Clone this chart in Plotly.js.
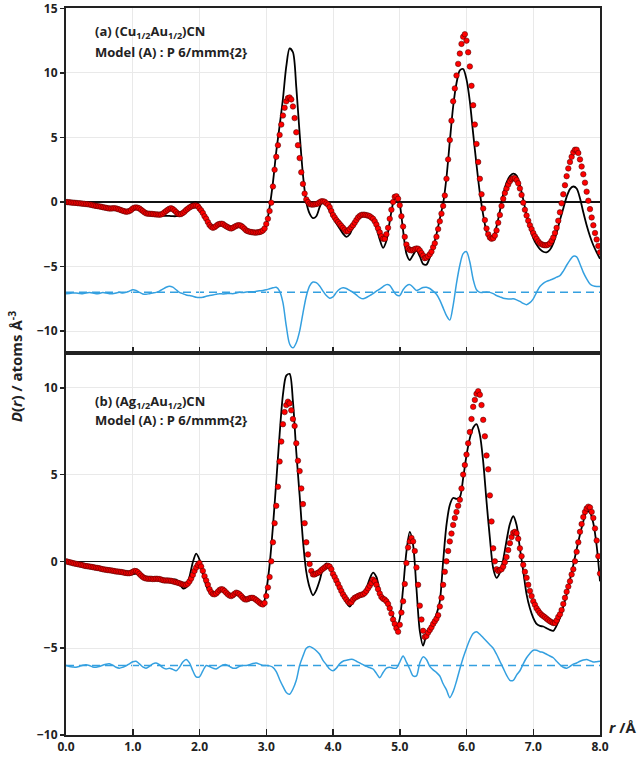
<!DOCTYPE html>
<html>
<head>
<meta charset="utf-8">
<script src="https://cdn.plot.ly/plotly-3.0.1.min.js"></script>
<style>html,body{margin:0;padding:0;background:#fff;}</style>
</head>
<body>
<div id="chart" style="width:641px;height:758px;"></div>
<script>
// ---------------- DATA ----------------
// Sampling grids (r in Å)
const expStep = 0.025;  // experimental points
const fitStep = 0.05;   // model / difference curves
const rExp = Array.from({length: 321}, (_, i) => +(i * expStep).toFixed(3));
const rFit = Array.from({length: 161}, (_, i) => +(i * fitStep).toFixed(2));

// Panel (a) (Cu1/2Au1/2)CN : experimental D(r), one row = 0.2 Å
const expA = [
  0,-0.01,-0.02,-0.04,-0.05,-0.06,-0.07,-0.09,
  -0.1,-0.11,-0.13,-0.14,-0.16,-0.17,-0.19,-0.21,
  -0.25,-0.28,-0.3,-0.32,-0.34,-0.36,-0.4,-0.43,
  -0.45,-0.48,-0.5,-0.5,-0.49,-0.48,-0.5,-0.54,
  -0.58,-0.63,-0.68,-0.72,-0.75,-0.74,-0.7,-0.62,
  -0.5,-0.44,-0.42,-0.45,-0.5,-0.6,-0.7,-0.8,
  -0.88,-0.9,-0.91,-0.92,-0.93,-0.95,-0.96,-0.97,
  -0.98,-0.96,-0.9,-0.8,-0.7,-0.6,-0.52,-0.48,
  -0.55,-0.65,-0.78,-0.9,-0.95,-0.93,-0.85,-0.75,
  -0.62,-0.52,-0.42,-0.35,-0.3,-0.28,-0.28,-0.32,
  -0.5,-0.65,-0.85,-1.1,-1.3,-1.55,-1.78,-1.92,
  -2.0,-1.95,-1.85,-1.75,-1.7,-1.68,-1.7,-1.8,
  -1.88,-1.95,-2.02,-2.05,-2.0,-1.92,-1.85,-1.8,
  -1.8,-1.85,-1.95,-2.08,-2.2,-2.26,-2.3,-2.33,
  -2.35,-2.37,-2.37,-2.35,-2.32,-2.28,-2.2,-2.05,
  -1.7,-1.3,-0.7,-0.05,1.2,2.5,3.5,4.4,
  5.2,6.0,6.7,7.3,7.8,8.05,8.1,7.95,
  7.4,6.5,5.4,4.4,3.4,2.3,1.4,0.65,
  0.2,0.0,-0.15,-0.2,-0.2,-0.18,-0.15,-0.12,
  -0.02,0.05,0.05,0.02,-0.1,-0.2,-0.4,-0.7,
  -1.0,-1.2,-1.4,-1.55,-1.7,-1.85,-2.0,-2.15,
  -2.28,-2.25,-2.1,-1.95,-1.8,-1.6,-1.4,-1.2,
  -1.08,-1.0,-0.98,-0.99,-1.02,-1.05,-1.1,-1.2,
  -1.3,-1.5,-1.75,-2.05,-2.35,-2.65,-2.85,-2.85,
  -2.5,-2.0,-1.3,-0.6,0.0,0.4,0.45,0.25,
  -0.25,-1.1,-1.9,-2.7,-3.3,-3.6,-3.72,-3.75,
  -3.7,-3.65,-3.6,-3.62,-3.75,-3.95,-4.15,-4.35,
  -4.3,-4.2,-4.05,-3.85,-3.5,-3.2,-2.7,-2.1,
  -1.5,-0.9,-0.3,0.5,1.8,3.3,4.8,6.3,
  7.8,8.8,9.8,10.7,11.5,12.25,12.8,13.0,
  12.5,11.6,10.5,9.0,7.5,6.0,4.5,3.1,
  1.8,0.6,-0.5,-1.4,-2.05,-2.5,-2.75,-2.85,
  -2.8,-2.6,-2.2,-1.6,-1.0,-0.3,0.25,0.7,
  1.05,1.35,1.6,1.78,1.85,1.85,1.7,1.45,
  1.05,0.55,-0.05,-0.6,-1.05,-1.45,-1.8,-2.1,
  -2.4,-2.65,-2.85,-3.05,-3.2,-3.28,-3.33,-3.35,
  -3.35,-3.3,-3.2,-3.0,-2.75,-2.4,-2.0,-1.45,
  -0.8,-0.1,0.6,1.3,2.0,2.6,3.1,3.5,
  3.85,4.05,4.05,3.8,3.3,2.75,2.15,1.5,
  0.8,0.1,-0.55,-1.2,-1.8,-2.4,-2.9,-3.4,
  -3.9
];
// model fit, one row = 0.5 Å
const fitA = [
  0,-0.03,-0.05,-0.07,-0.1,-0.13,-0.17,-0.2,-0.25,-0.3,
  -0.34,-0.4,-0.45,-0.5,-0.49,-0.5,-0.6,-0.72,-0.76,-0.68,
  -0.5,-0.45,-0.55,-0.75,-0.88,-0.92,-0.95,-1.0,-1.02,-1.05,
  -1.07,-1.08,-1.1,-1.1,-1.05,-0.85,-0.55,-0.3,-0.08,0.0,
  -0.3,-0.8,-1.4,-1.85,-2.05,-1.95,-1.75,-1.72,-1.88,-2.05,
  -2.05,-1.9,-1.82,-1.95,-2.2,-2.35,-2.4,-2.45,-2.45,-2.35,
  -1.8,-0.4,1.5,3.9,5.9,8.0,10.5,11.9,11.6,8.9,
  5.3,2.1,0.0,-0.9,-1.25,-1.1,-0.4,0.1,-0.1,-0.7,
  -1.2,-1.65,-2.05,-2.45,-2.7,-2.5,-1.9,-1.3,-0.98,-0.92,
  -0.95,-1.0,-1.3,-2.0,-2.9,-3.55,-3.0,-1.5,-0.1,0.5,
  -0.2,-2.2,-4.0,-4.5,-4.1,-3.75,-4.2,-4.8,-4.85,-4.3,
  -3.5,-2.5,-1.3,-0.1,1.9,4.7,7.4,9.2,10.2,10.3,
  9.5,7.8,5.3,2.9,0.7,-1.0,-2.3,-2.9,-2.7,-1.9,
  -0.7,0.6,1.5,2.0,2.2,2.05,1.3,0.2,-1.0,-2.0,
  -2.8,-3.3,-3.65,-3.85,-3.9,-3.7,-3.2,-2.4,-1.4,-0.5,
  0.4,1.0,1.2,1.05,0.3,-0.8,-1.8,-2.65,-3.35,-3.9,
  -4.4
];
// difference curve (offset), one row = 0.5 Å
const diffA = [
  -7.1,-7.08,-7.05,-7.05,-7.08,-7.1,-7.05,-7.02,-7.05,-7.1,
  -7.08,-7.02,-7.05,-7.1,-7.1,-7.05,-7.0,-7.05,-7.0,-6.9,
  -6.8,-6.85,-7.0,-7.12,-7.15,-7.1,-7.05,-7.0,-6.9,-6.75,
  -6.6,-6.52,-6.6,-6.8,-7.0,-7.1,-7.2,-7.25,-7.3,-7.38,
  -7.4,-7.38,-7.3,-7.25,-7.2,-7.15,-7.1,-7.12,-7.1,-7.08,
  -7.1,-7.05,-7.0,-7.02,-6.98,-6.95,-6.95,-6.92,-6.88,-6.85,
  -6.8,-6.72,-6.65,-6.6,-6.9,-7.8,-9.6,-11.0,-11.3,-10.9,
  -10.0,-8.6,-7.3,-6.5,-6.2,-6.25,-6.5,-6.9,-7.25,-7.45,
  -7.35,-7.0,-6.75,-6.65,-6.7,-6.85,-7.0,-7.2,-7.4,-7.5,
  -7.4,-7.25,-7.1,-6.9,-6.75,-6.55,-6.4,-6.45,-6.85,-7.2,
  -7.25,-6.8,-6.5,-6.4,-6.6,-6.85,-6.75,-6.62,-6.6,-6.7,
  -6.9,-7.15,-7.6,-8.2,-8.8,-9.15,-8.0,-6.3,-4.9,-4.0,
  -3.85,-4.65,-6.0,-6.8,-7.0,-7.0,-6.98,-7.0,-7.1,-7.25,
  -7.35,-7.45,-7.5,-7.52,-7.5,-7.58,-7.7,-7.85,-7.95,-7.8,
  -7.5,-7.0,-6.55,-6.3,-6.15,-6.05,-5.95,-5.82,-5.7,-5.35,
  -4.9,-4.5,-4.2,-4.25,-4.8,-5.45,-5.95,-6.35,-6.5,-6.55,
  -6.55
];
const baseA = -7;

// Panel (b) (Ag1/2Au1/2)CN : experimental D(r), one row = 0.2 Å
const expB = [
  0,-0.02,-0.05,-0.07,-0.1,-0.12,-0.14,-0.16,
  -0.18,-0.2,-0.22,-0.25,-0.27,-0.28,-0.3,-0.31,
  -0.33,-0.35,-0.37,-0.38,-0.4,-0.43,-0.45,-0.47,
  -0.48,-0.5,-0.51,-0.52,-0.54,-0.56,-0.58,-0.59,
  -0.6,-0.61,-0.63,-0.65,-0.67,-0.68,-0.68,-0.66,
  -0.6,-0.55,-0.56,-0.62,-0.72,-0.82,-0.9,-0.96,
  -0.98,-1.0,-1.0,-1.0,-1.02,-1.01,-1.0,-1.01,
  -1.02,-1.05,-1.08,-1.1,-1.1,-1.1,-1.11,-1.12,
  -1.15,-1.18,-1.2,-1.23,-1.26,-1.3,-1.33,-1.35,
  -1.35,-1.28,-1.15,-0.98,-0.78,-0.55,-0.35,-0.2,
  -0.1,-0.3,-0.55,-0.85,-1.1,-1.35,-1.6,-1.78,
  -1.88,-1.9,-1.85,-1.75,-1.65,-1.6,-1.62,-1.7,
  -1.8,-1.9,-1.97,-2.0,-1.95,-1.87,-1.8,-1.83,
  -1.9,-2.0,-2.1,-2.18,-2.2,-2.17,-2.12,-2.1,
  -2.1,-2.15,-2.22,-2.3,-2.38,-2.45,-2.48,-2.4,
  -2.0,-1.5,-0.9,0.0,1.1,2.2,3.2,4.3,
  5.75,6.9,7.9,8.6,9.0,9.2,9.1,8.7,
  8.2,7.8,6.8,5.8,5.2,4.2,3.3,2.2,
  1.1,0.4,-0.15,-0.55,-0.75,-0.75,-0.7,-0.66,
  -0.6,-0.5,-0.42,-0.35,-0.28,-0.25,-0.3,-0.45,
  -0.72,-0.9,-1.1,-1.3,-1.5,-1.7,-1.9,-2.05,
  -2.2,-2.32,-2.4,-2.35,-2.2,-2.1,-2.05,-2.0,
  -1.95,-1.92,-1.9,-1.82,-1.7,-1.55,-1.4,-1.25,
  -1.05,-1.15,-1.35,-1.6,-1.85,-2.05,-2.15,-2.2,
  -2.3,-2.45,-2.7,-3.0,-3.35,-3.6,-3.85,-4.05,
  -3.65,-2.95,-2.3,-1.3,-0.1,0.8,1.15,1.35,
  1.15,0.6,-0.35,-1.35,-2.55,-3.35,-4.0,-4.35,
  -4.3,-4.1,-3.95,-3.8,-3.6,-3.45,-3.3,-3.1,
  -2.6,-2.1,-1.35,-0.6,0.0,0.6,1.15,1.6,
  2.1,2.5,2.85,3.2,3.55,4.2,5.0,5.55,
  6.15,6.8,7.45,8.2,8.9,9.3,9.65,9.8,
  9.6,9.0,8.15,7.2,6.1,5.3,3.8,2.3,
  0.75,0.0,-0.45,-0.55,-0.5,-0.45,-0.3,-0.05,
  0.25,0.65,1.05,1.4,1.65,1.7,1.62,1.3,
  0.75,0.3,-0.2,-0.6,-0.95,-1.35,-1.7,-2.0,
  -2.3,-2.5,-2.7,-2.85,-2.98,-3.08,-3.15,-3.22,
  -3.3,-3.38,-3.45,-3.5,-3.55,-3.55,-3.4,-3.2,
  -3.05,-2.8,-2.45,-2.1,-1.75,-1.45,-1.15,-0.75,
  -0.45,0.0,0.55,1.1,1.7,2.15,2.55,2.85,
  3.05,3.15,3.1,2.85,2.5,1.9,1.2,0.3,
  -0.7
];
const fitB = [
  0,-0.05,-0.1,-0.14,-0.18,-0.23,-0.27,-0.3,-0.33,-0.37,
  -0.4,-0.45,-0.48,-0.5,-0.54,-0.58,-0.6,-0.63,-0.67,-0.72,
  -0.75,-0.7,-0.72,-0.88,-1.0,-1.02,-1.0,-1.02,-1.0,-1.08,
  -1.12,-1.1,-1.05,-1.05,-1.3,-1.55,-1.5,-0.9,-0.05,0.45,
  0.1,-0.7,-1.4,-1.78,-1.92,-1.85,-1.65,-1.6,-1.8,-2.0,
  -1.92,-1.82,-1.92,-2.1,-2.22,-2.12,-2.12,-2.25,-2.45,-2.5,
  -1.7,-0.2,2.0,4.6,7.3,9.6,10.7,10.8,9.2,6.3,
  3.8,1.2,-0.6,-1.5,-1.95,-1.65,-1.1,-0.4,-0.12,-0.3,
  -0.75,-1.2,-1.6,-2.0,-2.35,-2.6,-2.35,-2.1,-2.0,-1.85,
  -1.55,-1.0,-0.65,-0.9,-1.7,-2.15,-2.3,-2.6,-3.2,-3.85,
  -3.3,-1.55,0.55,1.7,0.95,-1.55,-4.0,-4.85,-4.2,-3.85,
  -3.55,-3.05,-2.3,0.0,2.1,3.25,3.65,3.6,3.7,4.8,
  6.1,7.1,7.7,7.9,7.3,5.75,3.45,1.35,-0.4,-0.95,
  -0.65,0.1,1.2,2.15,2.6,2.1,0.75,-0.55,-1.9,-2.7,
  -3.25,-3.6,-3.72,-3.75,-3.85,-3.95,-4.0,-3.7,-3.25,-2.6,
  -1.9,-1.05,-0.2,0.7,1.55,2.3,2.9,2.8,2.2,0.9,
  -1.15
];
const diffB = [
  -6.0,-6.05,-6.08,-6.1,-6.05,-5.98,-5.95,-6.0,-6.08,-6.1,
  -6.05,-5.98,-5.92,-5.9,-5.98,-6.1,-6.15,-6.1,-6.02,-5.9,
  -5.78,-5.75,-5.9,-6.08,-6.15,-6.05,-5.9,-5.85,-5.95,-6.12,
  -6.2,-6.15,-6.22,-6.3,-6.1,-5.8,-5.65,-5.85,-6.3,-6.65,
  -6.65,-6.3,-6.0,-6.05,-6.15,-6.2,-6.08,-5.97,-5.95,-6.05,
  -6.15,-6.15,-6.05,-6.0,-6.0,-5.95,-5.88,-5.85,-5.92,-6.0,
  -6.0,-6.02,-6.1,-6.35,-6.8,-7.2,-7.55,-7.65,-7.35,-6.85,
  -6.0,-5.45,-5.0,-4.9,-5.0,-5.15,-5.35,-5.7,-5.95,-6.2,
  -6.3,-6.15,-5.9,-5.75,-5.7,-5.65,-5.65,-5.75,-5.85,-5.95,
  -6.05,-6.12,-6.2,-6.45,-6.7,-6.4,-6.15,-6.1,-6.15,-6.15,
  -5.8,-5.45,-5.8,-6.2,-6.6,-6.6,-5.85,-5.5,-5.65,-6.05,
  -6.25,-6.4,-6.6,-7.05,-7.4,-7.85,-7.5,-6.9,-6.2,-5.55,
  -5.0,-4.5,-4.15,-4.05,-4.2,-4.4,-4.6,-4.8,-5.0,-5.35,
  -5.75,-6.15,-6.55,-6.85,-6.85,-6.55,-6.3,-5.9,-5.55,-5.3,
  -5.12,-5.12,-5.2,-5.25,-5.35,-5.45,-5.55,-5.75,-5.95,-6.1,
  -6.15,-6.05,-5.92,-5.85,-5.75,-5.68,-5.65,-5.72,-5.8,-5.78,
  -5.75
];
const baseB = -6;

const labelA1 = "<b>(a) (Cu<sub>1/2</sub>Au<sub>1/2</sub>)CN</b>";
const labelA2 = "<b>Model (A) : P 6/mmm{2}</b>";
const labelB1 = "<b>(b) (Ag<sub>1/2</sub>Au<sub>1/2</sub>)CN</b>";
const labelB2 = "<b>Model (A) : P 6/mmm{2}</b>";
const yTitle = "<b><i>D</i>(<i>r</i>) / atoms Å<sup>-3</sup></b>";
const xTitle = "<b><i>r</i> /Å</b>";

// ---------------- STYLE ----------------
const FONT = "'Open Sans', 'Noto Sans', sans-serif";
const TXT = '#222222';
const BLUE = 'rgb(52,160,224)';
const RED = 'rgb(255,0,0)';

function fitTrace(y, ax) {
  return {x: rFit, y: y, xaxis: ax.x, yaxis: ax.y, type: 'scatter', mode: 'lines',
    line: {color: '#000', width: 1.8, shape: 'spline', smoothing: 0.8}, hoverinfo: 'skip'};
}
function diffTrace(y, ax) {
  return {x: rFit, y: y, xaxis: ax.x, yaxis: ax.y, type: 'scatter', mode: 'lines',
    line: {color: BLUE, width: 1.5, shape: 'spline', smoothing: 0.8}, hoverinfo: 'skip'};
}
function expTrace(y, ax) {
  return {x: rExp, y: y, xaxis: ax.x, yaxis: ax.y, type: 'scatter', mode: 'markers',
    marker: {color: RED, size: 5.5, line: {color: 'rgba(70,0,0,0.75)', width: 0.7}}, hoverinfo: 'skip'};
}

const axTop = {x: 'x2', y: 'y2'};
const axBot = {x: 'x', y: 'y'};

const data = [
  diffTrace(diffA, axTop), fitTrace(fitA, axTop), expTrace(expA, axTop),
  diffTrace(diffB, axBot), fitTrace(fitB, axBot), expTrace(expB, axBot)
];

const split = 0.5254;
const gridCol = '#e9e9e9';
const xCommon = {
  range: [0, 8], dtick: 1, tick0: 0, tickformat: '.1f',
  ticks: 'inside', ticklen: 6, tickwidth: 1.5, tickcolor: '#222',
  showline: true, mirror: true, linecolor: '#222', linewidth: 2,
  showgrid: true, gridcolor: gridCol, gridwidth: 1, zeroline: false,
  tickfont: {family: FONT, size: 12, color: TXT, weight: 'bold'}
};
const yCommon = {
  dtick: 5, tick0: 0, ticks: 'outside', ticklen: 4, tickwidth: 1.5, tickcolor: '#222',
  showline: true, mirror: true, linecolor: '#222', linewidth: 2,
  showgrid: true, gridcolor: gridCol, gridwidth: 1,
  zeroline: true, zerolinecolor: '#111', zerolinewidth: 1.6,
  ticklabeloverflow: 'allow',
  tickfont: {family: FONT, size: 12, color: TXT, weight: 'bold'}
};

const layout = {
  width: 641, height: 758,
  margin: {l: 66, r: 41, t: 8, b: 23, pad: 0},
  paper_bgcolor: '#fff', plot_bgcolor: '#fff',
  showlegend: false,
  font: {family: FONT, size: 12, color: TXT},
  xaxis: Object.assign({}, xCommon, {domain: [0, 1], anchor: 'y'}),
  xaxis2: Object.assign({}, xCommon, {domain: [0, 1], anchor: 'y2', matches: 'x', showticklabels: false}),
  yaxis: Object.assign({}, yCommon, {domain: [0, split], range: [-10, 12], anchor: 'x'}),
  yaxis2: Object.assign({}, yCommon, {domain: [split, 1], range: [-11.7, 15.03], anchor: 'x2'}),
  shapes: [
    {type: 'line', xref: 'x2', yref: 'y2', x0: 0, x1: 8, y0: baseA, y1: baseA,
     line: {color: BLUE, width: 1.5, dash: '8px,5px'}, layer: 'below'},
    {type: 'line', xref: 'x', yref: 'y', x0: 0, x1: 8, y0: baseB, y1: baseB,
     line: {color: BLUE, width: 1.5, dash: '8px,5px'}, layer: 'below'}
  ],
  annotations: [
    {text: labelA1, xref: 'paper', yref: 'paper', x: 0.05, y: 0.967, xanchor: 'left', yanchor: 'middle',
     showarrow: false, font: {family: FONT, size: 13, color: TXT}},
    {text: labelA2, xref: 'paper', yref: 'paper', x: 0.05, y: 0.9395, xanchor: 'left', yanchor: 'middle',
     showarrow: false, font: {family: FONT, size: 13, color: TXT}},
    {text: labelB1, xref: 'paper', yref: 'paper', x: 0.05, y: 0.458, xanchor: 'left', yanchor: 'middle',
     showarrow: false, font: {family: FONT, size: 13, color: TXT}},
    {text: labelB2, xref: 'paper', yref: 'paper', x: 0.05, y: 0.4333, xanchor: 'left', yanchor: 'middle',
     showarrow: false, font: {family: FONT, size: 13, color: TXT}},
    {text: yTitle, xref: 'paper', yref: 'paper', x: -0.0955, y: 0.506, xanchor: 'center', yanchor: 'middle',
     textangle: -90, showarrow: false, font: {family: FONT, size: 15, color: TXT}},
    {text: xTitle, xref: 'paper', yref: 'paper', x: 1.013, y: 0.011, xanchor: 'left', yanchor: 'middle',
     showarrow: false, font: {family: FONT, size: 15, color: TXT}}
  ]
};

Plotly.newPlot('chart', data, layout, {displayModeBar: false, staticPlot: true});
</script>
</body>
</html>
